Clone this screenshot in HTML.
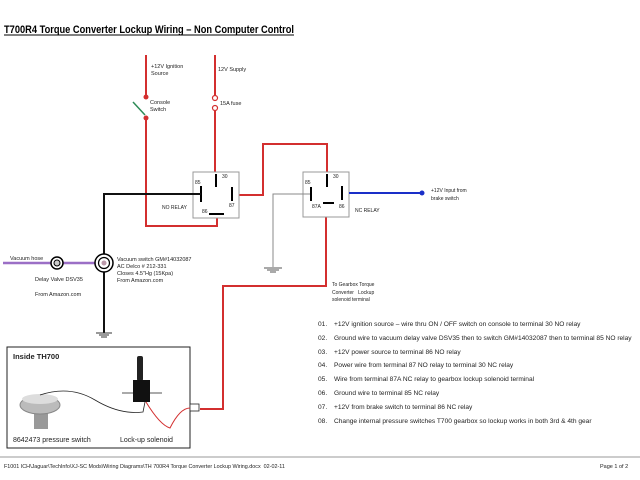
<!DOCTYPE html>
<html><head><meta charset="utf-8"><style>
html,body{margin:0;padding:0;background:#fff;}
svg{display:block;font-family:"Liberation Sans",sans-serif;}
</style></head><body>
<svg width="640" height="480" viewBox="0 0 640 480" xmlns="http://www.w3.org/2000/svg">
<rect width="640" height="480" fill="#fff"/>
<text x="4" y="33" font-size="11" font-weight="bold" textLength="290" lengthAdjust="spacingAndGlyphs">T700R4 Torque Converter Lockup Wiring – Non Computer Control</text>
<line x1="4" y1="35" x2="294" y2="35" stroke="#000" stroke-width="1"/>

<g stroke="#d32f2f" stroke-width="2" fill="none">
<polyline points="146,55 146,97"/>
<polyline points="146,118 146,226 217,226 217,216"/>
<polyline points="215,55 215,95"/>
<polyline points="215,111 215,174"/>
<polyline points="239,195 263,195 263,144 327,144 327,174"/>
<polyline points="326,204 326,286 223,286 223,409 200,409"/>
</g>
<circle cx="146" cy="97" r="2.5" fill="#d32f2f"/>
<circle cx="146" cy="118" r="2.5" fill="#d32f2f"/>
<line x1="133" y1="102" x2="145" y2="115" stroke="#2e8b57" stroke-width="1.5"/>
<circle cx="215" cy="98" r="2.5" fill="#fff" stroke="#d32f2f" stroke-width="1.2"/>
<circle cx="215" cy="108" r="2.5" fill="#fff" stroke="#d32f2f" stroke-width="1.2"/>
<g font-size="5.5" fill="#222">
<text x="151" y="68">+12V Ignition</text><text x="151" y="75">Source</text>
<text x="150" y="104">Console</text><text x="150" y="111">Switch</text>
<text x="218" y="71">12V Supply</text>
<text x="220" y="105">15A fuse</text>
</g>

<rect x="193" y="172" width="46" height="46" fill="#fff" stroke="#999" stroke-width="1"/>
<g stroke="#000" stroke-width="2">
<line x1="216" y1="174" x2="216" y2="187"/>
<line x1="201" y1="186" x2="201" y2="202"/>
<line x1="232" y1="187" x2="232" y2="201"/>
<line x1="209" y1="214" x2="224" y2="214"/>
</g>
<g font-size="5" fill="#222">
<text x="195" y="184">85</text><text x="222" y="178">30</text><text x="229" y="207">87</text><text x="202" y="213">86</text>
<text x="162" y="209">NO RELAY</text>
</g>

<polyline points="201,194 104,194 104,333" fill="none" stroke="#111" stroke-width="2"/>
<g stroke="#333" stroke-width="1"><line x1="96" y1="333" x2="112" y2="333"/><line x1="99" y1="335" x2="109" y2="335"/><line x1="101" y1="337" x2="107" y2="337"/></g>

<rect x="303" y="172" width="46" height="45" fill="#fff" stroke="#999" stroke-width="1"/>
<polyline points="311,194 273,194 273,267" fill="none" stroke="#888" stroke-width="1"/>
<g stroke="#555" stroke-width="1"><line x1="264" y1="268" x2="282" y2="268"/><line x1="267" y1="270" x2="279" y2="270"/><line x1="270" y1="272" x2="276" y2="272"/></g>
<line x1="349" y1="193" x2="422" y2="193" stroke="#1a2fc8" stroke-width="2"/>
<circle cx="422" cy="193" r="2.5" fill="#1a2fc8"/>
<g stroke="#000" stroke-width="2">
<line x1="327" y1="174" x2="327" y2="187"/>
<line x1="311" y1="187" x2="311" y2="201"/>
<line x1="342" y1="186" x2="342" y2="200"/>
<line x1="323" y1="203" x2="334" y2="203"/>
</g>
<g font-size="5" fill="#222">
<text x="305" y="184">85</text><text x="333" y="178">30</text><text x="339" y="208">86</text><text x="312" y="208">87A</text>
<text x="355" y="212">NC RELAY</text>
<text x="431" y="192">+12V Input from</text><text x="431" y="200">brake switch</text>
<text x="332" y="286">To Gearbox Torque</text><text x="332" y="294">Converter&#160;&#160;&#160;Lockup</text><text x="332" y="301">solenoid terminal</text>
</g>

<line x1="3" y1="263" x2="96" y2="263" stroke="#9b6fc6" stroke-width="2.5"/>
<circle cx="57" cy="263" r="6" fill="#fff" stroke="#000" stroke-width="1.5"/>
<circle cx="57" cy="263" r="3" fill="#ccc" stroke="#000" stroke-width="1"/>
<circle cx="104" cy="263" r="9" fill="#fff" stroke="#000" stroke-width="1.5"/>
<circle cx="104" cy="263" r="5.5" fill="#fff" stroke="#000" stroke-width="1.2"/>
<circle cx="104" cy="263" r="2.5" fill="#b9a"/>
<g font-size="5.5" fill="#222">
<text x="10" y="260">Vacuum hose</text>
<text x="35" y="281">Delay Valve DSV35</text>
<text x="35" y="296">From Amazon.com</text>
<text x="117" y="261">Vacuum switch GM#14032087</text>
<text x="117" y="268">AC Delco # 212-331</text>
<text x="117" y="275">Closes 4.5"Hg (15Kpa)</text>
<text x="117" y="282">From Amazon.com</text>
</g>

<rect x="7" y="347" width="183" height="101" fill="#fff" stroke="#222" stroke-width="1"/>
<text x="13" y="359" font-size="7.5" font-weight="bold" fill="#222">Inside TH700</text>
<rect x="190" y="404" width="9" height="7" fill="#fff" stroke="#222" stroke-width="0.8"/>
<rect x="34" y="407" width="14" height="22" fill="#999"/>
<ellipse cx="40" cy="405" rx="20" ry="9" fill="#bbb" stroke="#888"/>
<ellipse cx="40" cy="399" rx="18" ry="5" fill="#ddd"/>
<rect x="137" y="356" width="6" height="25" fill="#222" rx="2"/>
<rect x="133" y="380" width="17" height="22" fill="#111"/>
<line x1="122" y1="393" x2="133" y2="393" stroke="#555"/><line x1="150" y1="393" x2="162" y2="393" stroke="#555"/>
<path d="M40 395 Q70 385 95 400 Q120 415 143 412 L145 402" fill="none" stroke="#222" stroke-width="0.8"/>
<path d="M146 402 Q160 425 170 428 Q180 408 190 408" fill="none" stroke="#d32f2f" stroke-width="1"/>
<text x="13" y="442" font-size="7" fill="#222">8642473 pressure switch</text>
<text x="120" y="442" font-size="7" fill="#222">Lock-up solenoid</text>

<g font-size="6.6" fill="#222">
<text x="318" y="326">01.</text><text x="334" y="326">+12V ignition source – wire thru ON / OFF switch on console to terminal 30 NO relay</text>
<text x="318" y="340">02.</text><text x="334" y="340">Ground wire to vacuum delay valve DSV35 then to switch GM#14032087 then to terminal 85 NO relay</text>
<text x="318" y="354">03.</text><text x="334" y="354">+12V power source to terminal 86 NO relay</text>
<text x="318" y="367">04.</text><text x="334" y="367">Power wire from terminal 87 NO relay to terminal 30 NC relay</text>
<text x="318" y="381">05.</text><text x="334" y="381">Wire from terminal 87A NC relay to gearbox lockup solenoid terminal</text>
<text x="318" y="395">06.</text><text x="334" y="395">Ground wire to terminal 85 NC relay</text>
<text x="318" y="409">07.</text><text x="334" y="409">+12V from brake switch to terminal 86 NC relay</text>
<text x="318" y="423">08.</text><text x="334" y="423">Change internal pressure switches T700 gearbox so lockup works in both 3rd &amp; 4th gear</text>
</g>

<line x1="0" y1="457" x2="640" y2="457" stroke="#999" stroke-width="1"/>
<text x="4" y="468" font-size="5.4" fill="#222">F1001 ICH\Jaguar\TechInfo\XJ-SC Mods\Wiring Diagrams\TH 700R4 Torque Converter Lockup Wiring.docx&#160;&#160;02-02-11</text>
<text x="600" y="468" font-size="5.5" fill="#222">Page 1 of 2</text>
</svg>
</body></html>
